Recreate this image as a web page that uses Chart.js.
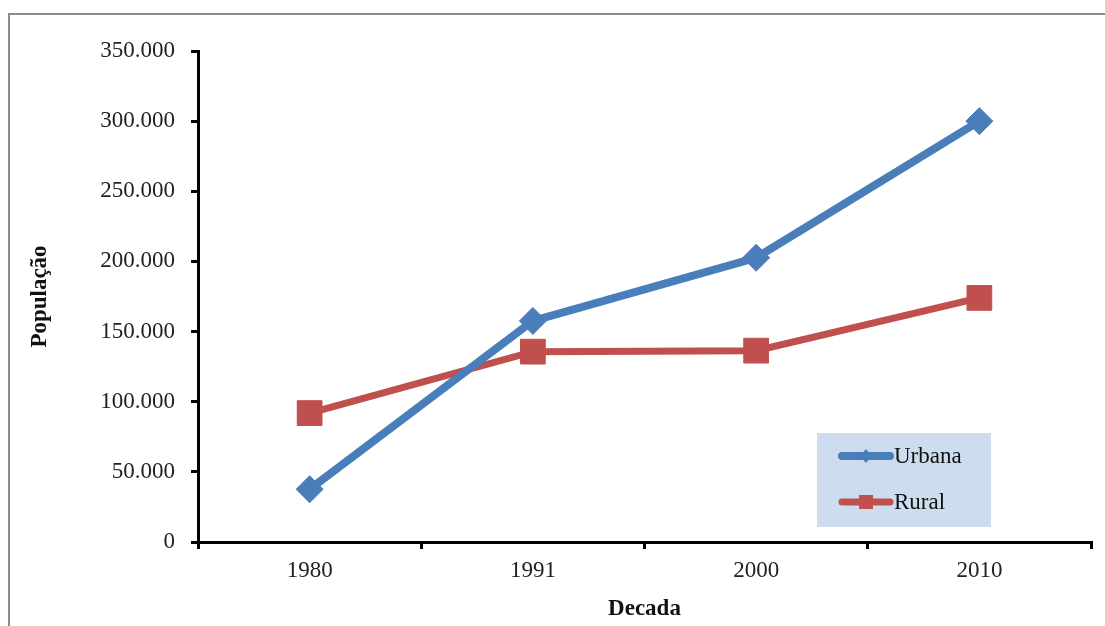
<!DOCTYPE html>
<html>
<head>
<meta charset="utf-8">
<script src="https://cdn.jsdelivr.net/npm/chart.js@4/dist/chart.umd.min.js"></script>
<style>
  html, body { margin: 0; padding: 0; background: #fff; overflow: hidden; }
  #frame {
    position: absolute; left: 8px; top: 13px; width: 1200px; height: 700px;
    border-left: 2px solid #8c8c8c; border-top: 2px solid #8c8c8c;
    box-sizing: border-box;
  }
  #wrap { position: absolute; left: 0; top: 0; width: 1105px; height: 626px; }
</style>
</head>
<body>
<div id="frame"></div>
<div id="wrap"><canvas id="c" width="1105" height="626"></canvas></div>
<script>
// Population by decade, urban vs rural
const decadas = ['1980', '1991', '2000', '2010'];
const urbana = [37600, 157600, 202600, 300000];
const rural = [91900, 135700, 136400, 174000];
const yTicks = [0, 50000, 100000, 150000, 200000, 250000, 300000, 350000];

const SERIF = '"Liberation Serif", "Times New Roman", serif';

function fmt(v) {
  return v === 0 ? '0' : String(v).replace(/\B(?=(\d{3})+(?!\d))/g, '.');
}

// Legend box drawn inside the plot area, lower right
const boxLegend = {
  id: 'boxLegend',
  afterDatasetsDraw(chart) {
    const ctx = chart.ctx;
    const a = chart.chartArea;
    const bx = a.right - 274, by = a.bottom - 109, bw = 174, bh = 94;
    ctx.save();
    ctx.fillStyle = '#cddcee';
    ctx.fillRect(bx, by, bw, bh);
    const rows = [by + 23, by + 69];
    chart.data.datasets.forEach((ds, i) => {
      const y = rows[i];
      ctx.strokeStyle = ds.borderColor;
      ctx.lineWidth = ds.borderWidth;
      ctx.lineCap = 'round';
      ctx.beginPath();
      ctx.moveTo(bx + 25, y);
      ctx.lineTo(bx + 73, y);
      ctx.stroke();
      ctx.fillStyle = ds.backgroundColor;
      if (ds.pointStyle === 'rectRot') {
        ctx.beginPath();
        ctx.moveTo(bx + 49, y - 7);
        ctx.lineTo(bx + 55, y);
        ctx.lineTo(bx + 49, y + 7);
        ctx.lineTo(bx + 43, y);
        ctx.closePath();
        ctx.fill();
      } else {
        ctx.fillRect(bx + 42, y - 7, 14, 14);
      }
      ctx.fillStyle = '#111';
      ctx.font = '23px ' + SERIF;
      ctx.textBaseline = 'middle';
      ctx.textAlign = 'left';
      ctx.fillText(ds.label, bx + 77, y + 1);
    });
    ctx.restore();
  }
};

new Chart(document.getElementById('c'), {
  type: 'line',
  data: {
    labels: decadas,
    datasets: [
      {
        label: 'Urbana', data: urbana,
        borderColor: '#4a7ebb', backgroundColor: '#4a7ebb',
        borderWidth: 8, pointStyle: 'rectRot', pointRadius: 13.5,
        pointBorderWidth: 1, pointBorderColor: '#4a7ebb', tension: 0
      },
      {
        label: 'Rural', data: rural,
        borderColor: '#c0504d', backgroundColor: '#c0504d',
        borderWidth: 7, pointStyle: 'rect', pointRadius: 17.5,
        pointBorderWidth: 1, pointBorderColor: '#c0504d', tension: 0
      }
    ]
  },
  options: {
    responsive: false,
    animation: false,
    layout: { autoPadding: false, padding: { left: 0, right: 14, top: 51, bottom: 0 } },
    plugins: { legend: { display: false }, tooltip: { enabled: false } },
    scales: {
      x: {
        type: 'category',
        offset: true,
        grid: { display: true, offset: true, drawOnChartArea: false, drawTicks: true,
                tickLength: 7, color: '#000', lineWidth: 3 },
        border: { display: true, color: '#000', width: 3 },
        ticks: { color: '#222', font: { family: SERIF, size: 23 }, padding: 8, maxRotation: 0 },
        title: { display: true, text: 'Decada', color: '#111',
                 font: { family: SERIF, size: 23, weight: 'bold' }, padding: { top: 0, bottom: 3 } },
        afterFit(s) { s.height = 84; }
      },
      y: {
        min: 0, max: 350000,
        afterBuildTicks(s) { s.ticks = yTicks.map(v => ({ value: v })); },
        grid: { display: true, drawOnChartArea: false, drawTicks: true,
                tickLength: 7, color: '#000', lineWidth: 3 },
        border: { display: true, color: '#000', width: 3 },
        ticks: { color: '#222', font: { family: SERIF, size: 23 }, padding: 16,
                 callback: v => fmt(v) },
        title: { display: true, text: 'População', color: '#111',
                 font: { family: SERIF, size: 23, weight: 'bold' }, padding: { top: 26, bottom: 0 } },
        afterFit(s) { s.width = 198; }
      }
    }
  },
  plugins: [boxLegend]
});
</script>
</body>
</html>
